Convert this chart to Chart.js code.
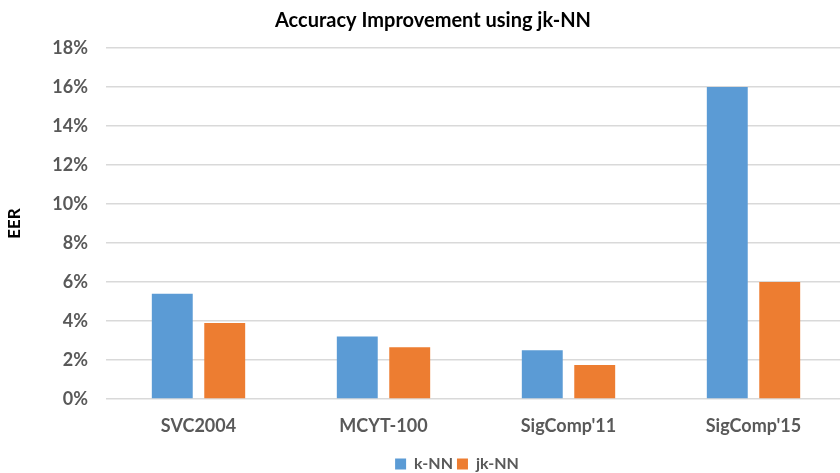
<!DOCTYPE html>
<html>
<head>
<meta charset="utf-8">
<script src="https://cdn.jsdelivr.net/npm/chart.js@4.4.0/dist/chart.umd.min.js"></script>
<style>
  html, body { margin: 0; padding: 0; background: #fff; overflow: hidden; }
  #wrap { width: 868px; height: 473px; }
</style>
</head>
<body>
<div id="wrap"><canvas id="myChart" width="868" height="473"></canvas></div>
<script>
// data
const categories = ["SVC2004", "MCYT-100", "SigComp'11", "SigComp'15"];
const knn = [5.4, 3.2, 2.5, 16];
const jknn = [3.9, 2.65, 1.75, 6];
const yTicks = [0, 2, 4, 6, 8, 10, 12, 14, 16, 18];

const grey = "#595959";
const fontFam = "Lato, 'Open Sans', sans-serif";

// the original chart is cut off on the right, so title/legend sit a bit right of canvas centre
const shiftBlocks = {
  id: "shiftBlocks",
  afterLayout(chart) {
    chart.titleBlock.left += 10;
    chart.titleBlock.right += 10;
    chart.legend.left += 34;
    chart.legend.right += 34;
    chart.legend.top += 9;
    chart.legend.bottom += 9;
  },
};

const ctx = document.getElementById("myChart");
const myChart = new Chart(ctx, {
  type: "bar",
  data: {
    labels: categories,
    datasets: [
      {
        label: "k-NN",
        data: knn,
        backgroundColor: "#5b9bd5",
        categoryPercentage: 0.567,
        barPercentage: 0.78,
      },
      {
        label: "jk-NN",
        data: jknn,
        backgroundColor: "#ed7d31",
        categoryPercentage: 0.567,
        barPercentage: 0.78,
      },
    ],
  },
  options: {
    responsive: false,
    animation: false,
    layout: { padding: { right: 22, bottom: 0 } },
    plugins: {
      title: {
        display: true,
        text: "Accuracy Improvement using jk-NN",
        color: "#000",
        font: { family: fontFam, size: 20, weight: "bold" },
        padding: { top: 9, bottom: 15 },
      },
      legend: {
        position: "bottom",
        labels: {
          boxWidth: 11,
          boxHeight: 11,
          color: grey,
          font: { family: fontFam, size: 16, weight: "bold" },
          padding: 4,
        },
      },
      tooltip: { enabled: false },
    },
    scales: {
      x: {
        afterFit: (scale) => { scale.height = 44; },
        grid: { display: false },
        border: { display: false },
        ticks: {
          color: grey,
          padding: 8,
          font: { family: fontFam, size: 18, weight: "bold" },
        },
      },
      y: {
        min: 0,
        max: 18,
        afterFit: (scale) => { scale.width = 106; },
        afterBuildTicks: (scale) => {
          scale.ticks = yTicks.map((v) => ({ value: v }));
        },
        grid: { color: "#d9d9d9", lineWidth: 1.5, drawTicks: false },
        border: { display: false },
        ticks: {
          color: grey,
          padding: 18,
          font: { family: fontFam, size: 18, weight: "bold" },
          callback: (v) => v + "%",
        },
        title: {
          display: true,
          text: "EER",
          color: "#000",
          padding: { top: 4, bottom: 0 },
          font: { family: fontFam, size: 17, weight: "bold" },
        },
      },
    },
  },
  plugins: [shiftBlocks],
});
myChart;
</script>
</body>
</html>
